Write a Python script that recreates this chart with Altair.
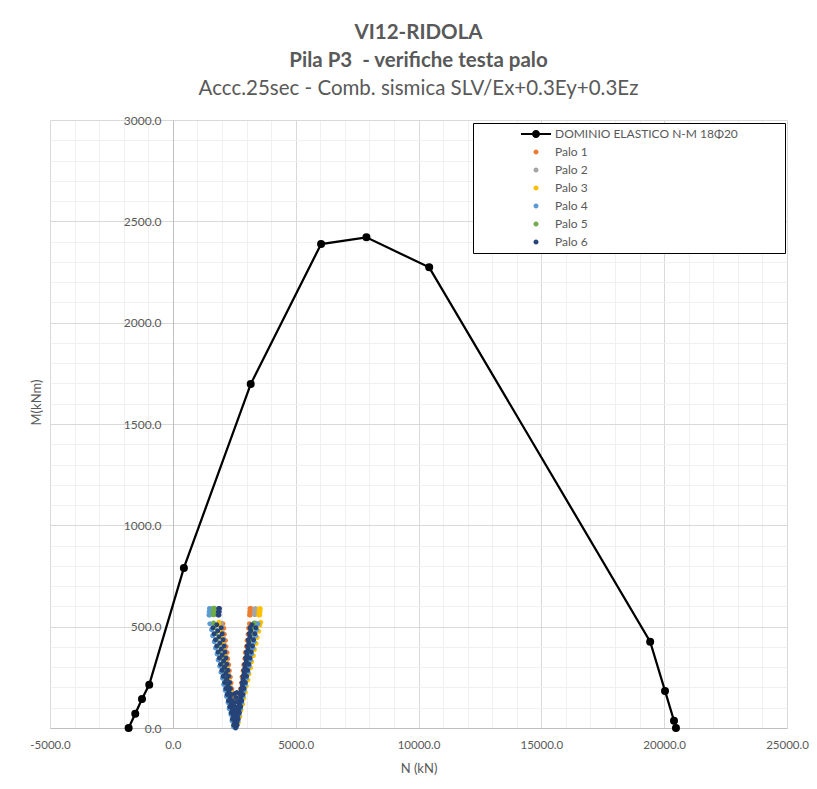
import altair as alt
import pandas as pd

TITLE_LINES = ["VI12-RIDOLA", "Pila P3 \u00a0- verifiche testa palo"]
SUBTITLE = "Accc.25sec - Comb. sismica SLV/Ex+0.3Ey+0.3Ez"
X_TITLE = "N (kN)"
Y_TITLE = "M(kNm)"

# Elastic N-M domain (black polyline with markers)
DOMINIO = "DOMINIO ELASTICO N-M 18Φ20"
DOM_N = [-1800, -1530, -1255, -960, 450, 3170, 6035, 7880, 10435, 19430, 20035, 20400, 20480]
DOM_M = [0, 70, 143, 214, 790, 1697, 2388, 2421, 2273, 426, 183, 36, 0]

PALO_NAMES = ["Palo 1", "Palo 2", "Palo 3", "Palo 4", "Palo 5", "Palo 6"]
PALO_COLORS = ["#ED7D31", "#A5A5A5", "#FFC000", "#5B9BD5", "#70AD47", "#264478"]

PALO1_N = [2605, 2570, 2545, 2500, 2475, 2435, 2405, 2370, 2340, 2300, 2275, 2235, 2205, 2165, 2140, 2095, 2075, 2040,
           2555, 2590, 2615, 2660, 2685, 2725, 2750, 2795, 2815, 2860, 2885, 2930, 2950, 2995, 3020, 3065, 3085, 3120,
           3120, 3155, 3130, 3165, 3140, 3175]
PALO1_M = [12, 42, 72, 102, 132, 162, 192, 222, 252, 282, 312, 342, 372, 402, 432, 462, 492, 515,
           12, 42, 72, 102, 132, 162, 192, 222, 252, 282, 312, 342, 372, 402, 432, 462, 492, 515,
           558, 558, 574, 574, 590, 590]

PALO2_N = [2580, 2535, 2505, 2460, 2435, 2390, 2360, 2315, 2290, 2240, 2215, 2170, 2140, 2095, 2070, 2020, 1995, 1965,
           2615, 2655, 2710, 2745, 2805, 2840, 2895, 2935, 2990, 3025, 3085, 3120, 3180, 3215, 3270, 3310, 3365, 3380,
           3320, 3355, 3330, 3365, 3340, 3372]
PALO2_M = [20, 50, 80, 110, 140, 170, 200, 230, 260, 290, 320, 350, 380, 410, 440, 470, 500, 518,
           20, 50, 80, 110, 140, 170, 200, 230, 260, 290, 320, 350, 380, 410, 440, 470, 500, 518,
           560, 560, 575, 575, 589, 589]

PALO3_N = [2540, 2505, 2455, 2425, 2375, 2345, 2295, 2265, 2210, 2180, 2130, 2100, 2050, 2020, 1965, 1935, 1885, 1875,
           2665, 2730, 2775, 2840, 2885, 2945, 2990, 3055, 3100, 3165, 3210, 3275, 3320, 3385, 3430, 3495, 3540, 3575,
           3500, 3540, 3510, 3550, 3520, 3560]
PALO3_M = [27, 57, 87, 117, 147, 177, 207, 237, 267, 297, 327, 357, 387, 417, 447, 477, 507, 522,
           27, 57, 87, 117, 147, 177, 207, 237, 267, 297, 327, 357, 387, 417, 447, 477, 507, 522,
           557, 557, 573, 573, 589, 589]

PALO4_N = [2475, 2410, 2365, 2295, 2250, 2185, 2135, 2070, 2025, 1960, 1910, 1845, 1800, 1735, 1685, 1620, 1575, 1505,
           2595, 2655, 2695, 2755, 2800, 2860, 2900, 2960, 3000, 3065, 3105, 3165, 3205, 3265, 3310, 3370, 3410, 3470,
           1470, 1505, 1480, 1515, 1490, 1525]
PALO4_M = [5, 35, 65, 95, 125, 155, 185, 215, 245, 275, 305, 335, 365, 395, 425, 455, 485, 515,
           5, 35, 65, 95, 125, 155, 185, 215, 245, 275, 305, 335, 365, 395, 425, 455, 485, 515,
           558, 558, 574, 574, 590, 590]

PALO5_N = [2490, 2450, 2390, 2350, 2290, 2250, 2185, 2145, 2085, 2045, 1985, 1945, 1885, 1845, 1785, 1745, 1685, 1655,
           2585, 2640, 2670, 2725, 2755, 2810, 2840, 2895, 2925, 2980, 3010, 3065, 3100, 3150, 3185, 3235, 3270, 3310,
           1640, 1675, 1650, 1685, 1660, 1695]
PALO5_M = [15, 45, 75, 105, 135, 165, 195, 225, 255, 285, 315, 345, 375, 405, 435, 465, 495, 518,
           15, 45, 75, 105, 135, 165, 195, 225, 255, 285, 315, 345, 375, 405, 435, 465, 495, 518,
           559, 559, 575, 575, 591, 591]

PALO6_N = [2555, 2520, 2465, 2430, 2375, 2335, 2280, 2245, 2190, 2155, 2100, 2065, 2010, 1970, 1915, 1880, 1825, 1790,
           2605, 2630, 2680, 2710, 2755, 2785, 2835, 2860, 2910, 2940, 2990, 3015, 3065, 3095, 3140, 3170, 3220,
           2475, 2420, 2370, 2315, 2260, 2210, 2155, 2105, 2050, 2000, 1945, 1895, 1840, 1785, 1735, 1680, 1630,
           2570, 2535, 2495, 2460, 2420, 2385, 2345, 2310, 2270, 2235, 2195, 2160, 2120, 2085, 2045, 2010, 1970,
           2575, 2610, 2645, 2680, 2715, 2750, 2785, 2820, 2855, 2890, 2925, 2960, 2995, 3035, 3070, 3105, 3140,
           2615, 2660, 2710, 2760, 2805, 2855, 2900, 2950, 3000, 3045, 3095, 3140, 3190, 3240, 3285, 3335, 3380,
           2540, 2585, 2560, 2525, 2600, 2560, 2500, 2630, 2565, 2525, 2610,
           1845, 1880, 1855, 1890, 1865, 1900]
PALO6_M = [0, 30, 60, 90, 120, 150, 180, 210, 240, 270, 300, 330, 360, 390, 420, 450, 480, 510,
           30, 60, 90, 120, 150, 180, 210, 240, 270, 300, 330, 360, 390, 420, 450, 480, 510,
           15, 45, 75, 105, 135, 165, 195, 225, 255, 285, 315, 345, 375, 405, 435, 465, 495,
           15, 45, 75, 105, 135, 165, 195, 225, 255, 285, 315, 345, 375, 405, 435, 465, 495,
           15, 45, 75, 105, 135, 165, 195, 225, 255, 285, 315, 345, 375, 405, 435, 465, 495,
           15, 45, 75, 105, 135, 165, 195, 225, 255, 285, 315, 345, 375, 405, 435, 465, 495,
           20, 18, 55, 80, 85, 105, 125, 130, 150, 170, 175,
           558, 558, 574, 574, 590, 590]

PALO_N = [PALO1_N, PALO2_N, PALO3_N, PALO4_N, PALO5_N, PALO6_N]
PALO_M = [PALO1_M, PALO2_M, PALO3_M, PALO4_M, PALO5_M, PALO6_M]

X_TICKS = list(range(-5000, 25001, 1000))
Y_TICKS = list(range(0, 3001, 100))

# ---------------------------------------------------------------- tables
dom_df = pd.DataFrame({"N": DOM_N, "M": DOM_M, "i": list(range(len(DOM_N)))})
rows = []
for name, ns, ms in zip(PALO_NAMES, PALO_N, PALO_M):
    for n, m in zip(ns, ms):
        rows.append({"N": n, "M": m, "serie": name})
pile_df = pd.DataFrame(rows)

# legend symbols: line with a dot for the domain, small dot for the piles
DOT = "M-0.5,0A0.5,0.5,0,1,1,0.5,0A0.5,0.5,0,1,1,-0.5,0Z"
LINE_DOT = ("M-3,-0.22H-0.77V0.22H-3Z M0.77,-0.22H3V0.22H0.77Z "
            "M-0.8,0A0.8,0.8,0,1,1,0.8,0A0.8,0.8,0,1,1,-0.8,0Z")
SERIES = [DOMINIO] + PALO_NAMES
SERIES_COLORS = ["#000000"] + PALO_COLORS
SERIES_SHAPES = [LINE_DOT] + [DOT] * len(PALO_NAMES)

TXT = "#595959"
FONT = "Lato"

x_axis = alt.Axis(
    values=X_TICKS, title=X_TITLE, ticks=False, tickSize=0, labelPadding=11, labelFlush=False,
    labelExpr="datum.value % 5000 === 0 ? (datum.value < 0 ? '-' : '') + format(abs(datum.value), '.1f') : ''",
    labelOverlap=False, labelFont=FONT, labelFontSize=11.5, labelColor=TXT,
    titleFont=FONT, titleFontSize=13, titleFontWeight="normal", titleColor=TXT, titlePadding=12,
    domainColor="#BFBFBF", domainWidth=1,
    gridColor={"condition": {"test": "datum.value % 5000 === 0", "value": "#D9D9D9"}, "value": "#F0F0F0"},
)
y_axis = alt.Axis(
    values=Y_TICKS, title=Y_TITLE, ticks=False, tickSize=0, labelPadding=12, offset=-123, labelFlush=False,
    labelExpr="datum.value % 500 === 0 ? format(datum.value, '.1f') : ''",
    labelOverlap=False, labelFont=FONT, labelFontSize=12, labelColor=TXT,
    titleFont=FONT, titleFontSize=13, titleFontWeight="normal", titleColor=TXT,
    titleX=-130, titleY=282,
    domainColor="#BFBFBF", domainWidth=1,
    gridColor={"condition": {"test": "datum.value % 500 === 0", "value": "#D9D9D9"}, "value": "#F0F0F0"},
)

x_enc = alt.X("N:Q", scale=alt.Scale(domain=[-5000, 25000], nice=False, zero=False), axis=x_axis)
y_enc = alt.Y("M:Q", scale=alt.Scale(domain=[0, 3000], nice=False, zero=False), axis=y_axis)

leg = alt.Legend(
    title=None, orient="none", legendX=423, legendY=3,
    fillColor="white", strokeColor="black", padding=5,
    symbolSize=100, symbolStrokeWidth=0, symbolOffset=52, labelOffset=13, rowPadding=6,
    labelFont=FONT, labelFontSize=12, labelColor=TXT, labelLimit=400,
    labelExpr="length(datum.label) > 10 ? datum.label + '\u2003\u2003\u2003\u2002\u2800' : datum.label",
)

dom_line = alt.Chart(dom_df).mark_line(color="black", strokeWidth=2.25).encode(
    x=x_enc, y=y_enc, order="i:Q")
dom_pts = alt.Chart(dom_df).mark_circle(color="black", size=64, opacity=1).encode(
    x=x_enc, y=y_enc)
piles = alt.Chart(pile_df).mark_point(filled=True, size=100, opacity=1).encode(
    x=x_enc, y=y_enc,
    color=alt.Color("serie:N", scale=alt.Scale(domain=SERIES, range=SERIES_COLORS), legend=leg),
    shape=alt.Shape("serie:N", scale=alt.Scale(domain=SERIES, range=SERIES_SHAPES), legend=leg),
)

chart = alt.layer(dom_line, dom_pts, piles).properties(
    width=737, height=608,
    autosize=alt.AutoSizeParams(type="none"),
    padding={"left": 42, "top": 112, "right": 22, "bottom": 50},
    title=alt.Title(
        text=TITLE_LINES, subtitle=SUBTITLE,
        font=FONT, fontSize=20.5, fontWeight="bold", color=TXT, lineHeight=28,
        subtitleFont=FONT, subtitleFontSize=20.5, subtitleFontWeight="normal", subtitleColor=TXT,
        subtitlePadding=7, anchor="middle", frame="group", offset=15,
    ),
).configure(font=FONT, background="white").configure_view(strokeWidth=0)

chart.save("out.html", embed_options={"renderer": "svg", "actions": False})
